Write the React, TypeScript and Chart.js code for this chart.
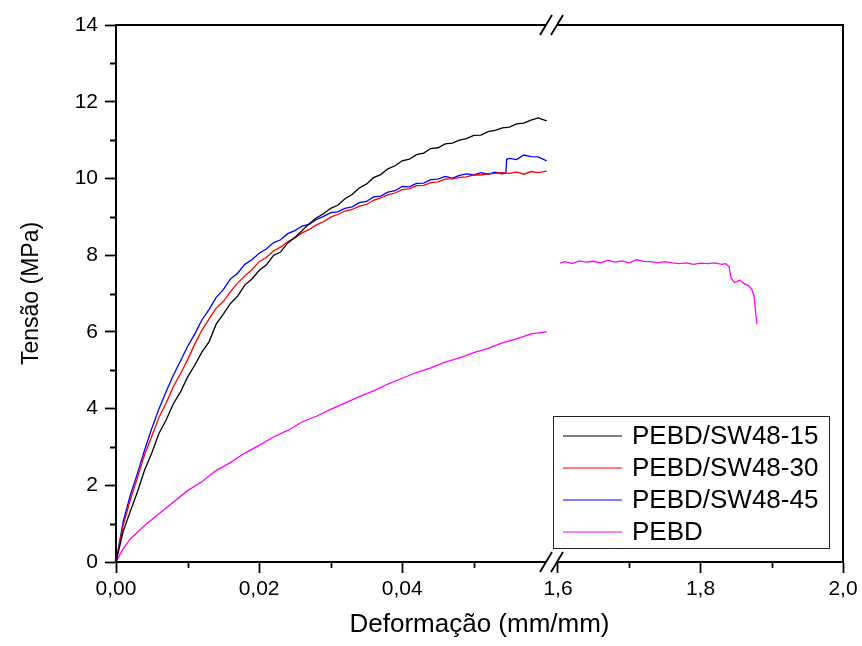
import React, { useEffect, useRef } from 'react';
import { Chart, registerables } from 'chart.js';

Chart.register(...registerables);

const FONT = "'Liberation Sans', Arial, Helvetica, sans-serif";

const seriesNames = ['PEBD/SW48-15', 'PEBD/SW48-30', 'PEBD/SW48-45', 'PEBD'];
const seriesColors = ['#000000', '#ff0000', '#0000ff', '#ff00ff'];

const xTitle = 'Deformação (mm/mm)';
const yTitle = 'Tensão (MPa)';

// strain grid shared by PEBD/SW48-15 and PEBD/SW48-30 (left segment)
const strainSW = [
  0, 0.001, 0.002, 0.003, 0.004, 0.005, 0.006, 0.007, 0.008, 0.009,
  0.010, 0.011, 0.012, 0.013, 0.014, 0.015, 0.016, 0.017, 0.018, 0.019,
  0.020, 0.021, 0.022, 0.023, 0.024, 0.025, 0.026, 0.027, 0.028, 0.029,
  0.030, 0.031, 0.032, 0.033, 0.034, 0.035, 0.036, 0.037, 0.038, 0.039,
  0.040, 0.041, 0.042, 0.043, 0.044, 0.045, 0.046, 0.047, 0.048, 0.049,
  0.050, 0.051, 0.052, 0.053, 0.054, 0.055, 0.056, 0.057, 0.058, 0.059,
  0.0602,
];

const stressSW15 = [
  0, 0.8, 1.32, 1.83, 2.4, 2.84, 3.35, 3.7, 4.12, 4.43,
  4.82, 5.13, 5.47, 5.74, 6.2, 6.46, 6.74, 6.93, 7.22, 7.38,
  7.6, 7.74, 7.99, 8.08, 8.32, 8.46, 8.64, 8.82, 8.97, 9.08,
  9.22, 9.3, 9.47, 9.58, 9.75, 9.85, 10.02, 10.1, 10.25, 10.33,
  10.46, 10.5, 10.62, 10.66, 10.78, 10.8, 10.9, 10.92, 11.0, 11.04,
  11.12, 11.13, 11.22, 11.25, 11.32, 11.34, 11.42, 11.44, 11.52, 11.58,
  11.5,
];

const stressSW30 = [
  0, 0.95, 1.62, 2.2, 2.8, 3.28, 3.77, 4.14, 4.57, 4.9,
  5.27, 5.68, 6.04, 6.33, 6.62, 6.79, 7.05, 7.27, 7.46, 7.62,
  7.83, 7.94, 8.11, 8.21, 8.35, 8.45, 8.58, 8.67, 8.79, 8.87,
  8.99, 9.06, 9.15, 9.19, 9.28, 9.32, 9.43, 9.49, 9.57, 9.62,
  9.71, 9.73, 9.81, 9.82, 9.89, 9.91, 9.98, 9.99, 10.03, 10.04,
  10.09, 10.09, 10.12, 10.13, 10.15, 10.13, 10.17, 10.11, 10.18, 10.15,
  10.19,
];

const strainSW45 = [
  0, 0.001, 0.002, 0.003, 0.004, 0.005, 0.006, 0.007, 0.008, 0.009,
  0.010, 0.011, 0.012, 0.013, 0.014, 0.015, 0.016, 0.017, 0.018, 0.019,
  0.020, 0.021, 0.022, 0.023, 0.024, 0.025, 0.026, 0.027, 0.028, 0.029,
  0.030, 0.031, 0.032, 0.033, 0.034, 0.035, 0.036, 0.037, 0.038, 0.039,
  0.040, 0.041, 0.042, 0.043, 0.044, 0.045, 0.046, 0.047, 0.048, 0.049,
  0.050, 0.051, 0.052, 0.053, 0.054, 0.0545, 0.0546, 0.055, 0.056, 0.057,
  0.058, 0.059, 0.0602,
];

const stressSW45 = [
  0, 1.05, 1.74, 2.31, 2.92, 3.48, 3.99, 4.44, 4.86, 5.24,
  5.62, 5.94, 6.31, 6.58, 6.9, 7.1, 7.38, 7.53, 7.76, 7.88,
  8.05, 8.16, 8.32, 8.4, 8.56, 8.64, 8.76, 8.8, 8.93, 9.01,
  9.11, 9.13, 9.22, 9.26, 9.37, 9.4, 9.52, 9.54, 9.64, 9.68,
  9.79, 9.78, 9.87, 9.88, 9.97, 9.98, 10.05, 10.01, 10.08, 10.12,
  10.09, 10.15, 10.11, 10.16, 10.12, 10.14, 10.5, 10.52, 10.49, 10.61,
  10.57, 10.56, 10.46,
];

const strainPEBDlow = [
  0, 0.001, 0.002, 0.004, 0.006, 0.008, 0.010, 0.012, 0.014, 0.016,
  0.018, 0.020, 0.022, 0.024, 0.026, 0.028, 0.030, 0.032, 0.034, 0.036,
  0.038, 0.040, 0.042, 0.044, 0.046, 0.048, 0.050, 0.052, 0.054, 0.056,
  0.058, 0.0602,
];

const stressPEBDlow = [
  0, 0.35, 0.6, 0.95, 1.26, 1.56, 1.86, 2.09, 2.39, 2.59,
  2.84, 3.04, 3.26, 3.43, 3.65, 3.8, 3.98, 4.14, 4.31, 4.46,
  4.64, 4.79, 4.94, 5.06, 5.21, 5.32, 5.46, 5.57, 5.71, 5.82,
  5.95, 6.0,
];

const strainPEBDhigh = [
  1.603, 1.61, 1.62, 1.63, 1.64, 1.65, 1.66, 1.67, 1.68, 1.69,
  1.70, 1.71, 1.72, 1.73, 1.74, 1.75, 1.76, 1.77, 1.78, 1.79,
  1.80, 1.81, 1.82, 1.83, 1.835, 1.84, 1.843, 1.848, 1.855, 1.862,
  1.868, 1.872, 1.875, 1.877, 1.879,
];

const stressPEBDhigh = [
  7.8, 7.83, 7.78, 7.85, 7.82, 7.84, 7.8, 7.87, 7.82, 7.85,
  7.8, 7.88, 7.84, 7.83, 7.8, 7.83, 7.8, 7.78, 7.8, 7.76,
  7.79, 7.78, 7.8, 7.76, 7.78, 7.7, 7.4, 7.28, 7.35, 7.25,
  7.2, 7.1, 6.95, 6.6, 6.2,
];

const yTicks = [0, 2, 4, 6, 8, 10, 12, 14];
const yMinorTicks = [1, 3, 5, 7, 9, 11, 13];
const xLowTicks = [0, 0.02, 0.04];
const xLowMinorTicks = [0.01, 0.03, 0.05];
const xHighTicks = [1.6, 1.8, 2.0];
const xHighMinorTicks = [1.7, 1.9];

const xLowRange = [0, 0.0608];
const xHighRange = [1.5902, 2.0];
const yRange = [0, 14];

const pairs = (xs: number[], ys: number[]) => xs.map((x, i) => ({ x, y: ys[i] }));

const framePlugin = {
  id: 'frameAndLegend',
  afterDraw(chart: any) {
    const { ctx, chartArea } = chart;
    const { left, right, top, bottom } = chartArea;
    const ys = chart.scales.y;
    const xl = chart.scales.xLow;
    const xh = chart.scales.xHigh;
    ctx.save();
    ctx.strokeStyle = '#000';
    ctx.lineWidth = 2;
    ctx.beginPath();
    ctx.moveTo(left, top);
    ctx.lineTo(right, top);
    ctx.lineTo(right, bottom);
    ctx.stroke();

    // minor ticks
    ctx.lineWidth = 1.8;
    ctx.beginPath();
    yMinorTicks.forEach((v) => {
      const p = Math.round(ys.getPixelForValue(v)) + 0.5;
      ctx.moveTo(left, p);
      ctx.lineTo(left - 6, p);
    });
    xLowMinorTicks.forEach((v) => {
      const p = Math.round(xl.getPixelForValue(v)) + 0.5;
      ctx.moveTo(p, bottom);
      ctx.lineTo(p, bottom + 6);
    });
    xHighMinorTicks.forEach((v) => {
      const p = Math.round(xh.getPixelForValue(v)) + 0.5;
      ctx.moveTo(p, bottom);
      ctx.lineTo(p, bottom + 6);
    });
    ctx.stroke();

    // axis break marks
    const bx = xl.right;
    const s1 = bx - 5;
    const s2 = bx + 6;
    [top, bottom].forEach((yy) => {
      ctx.fillStyle = '#fff';
      ctx.beginPath();
      ctx.moveTo(s1 - 4, yy + 3);
      ctx.lineTo(s2 - 4, yy + 3);
      ctx.lineTo(s2 + 4, yy - 3);
      ctx.lineTo(s1 + 4, yy - 3);
      ctx.closePath();
      ctx.fill();
      ctx.strokeStyle = '#000';
      ctx.lineWidth = 1.8;
      ctx.beginPath();
      ctx.moveTo(s1 - 6, yy + 10);
      ctx.lineTo(s1 + 6, yy - 10);
      ctx.moveTo(s2 - 6, yy + 10);
      ctx.lineTo(s2 + 6, yy - 10);
      ctx.stroke();
    });

    // legend
    const boxW = 276;
    const boxH = 132;
    const bxR = right - 14;
    const byB = bottom - 14;
    const lx = bxR - boxW;
    const ly = byB - boxH;
    ctx.fillStyle = '#fff';
    ctx.fillRect(lx, ly, boxW, boxH);
    ctx.strokeStyle = '#222';
    ctx.lineWidth = 1;
    ctx.strokeRect(Math.round(lx) + 0.5, Math.round(ly) + 0.5, boxW, boxH);
    ctx.font = `26px ${FONT}`;
    ctx.textAlign = 'left';
    ctx.textBaseline = 'middle';
    const items = chart.data.datasets.filter((d: any) => !d.hideInLegend);
    items.forEach((d: any, i: number) => {
      const cy = ly + 20 + i * 32;
      ctx.strokeStyle = d.borderColor;
      ctx.lineWidth = 1.2;
      ctx.beginPath();
      ctx.moveTo(lx + 10, cy);
      ctx.lineTo(lx + 69, cy);
      ctx.stroke();
      ctx.fillStyle = '#000';
      ctx.fillText(d.label, lx + 79, cy + 1);
    });
    ctx.restore();
  },
};

export default function App() {
  const ref = useRef<HTMLCanvasElement | null>(null);

  useEffect(() => {
    if (!ref.current) return;
    Chart.defaults.font.family = FONT;
    Chart.defaults.color = '#000';
    const lineStyle = { borderWidth: 1.3, pointRadius: 0, tension: 0, fill: false };
    const chart = new Chart(ref.current, {
      type: 'line',
      data: {
        datasets: [
          { label: seriesNames[0], data: pairs(strainSW, stressSW15), borderColor: seriesColors[0], xAxisID: 'xLow', yAxisID: 'y', ...lineStyle },
          { label: seriesNames[1], data: pairs(strainSW, stressSW30), borderColor: seriesColors[1], xAxisID: 'xLow', yAxisID: 'y', ...lineStyle },
          { label: seriesNames[2], data: pairs(strainSW45, stressSW45), borderColor: seriesColors[2], xAxisID: 'xLow', yAxisID: 'y', ...lineStyle },
          { label: seriesNames[3], data: pairs(strainPEBDlow, stressPEBDlow), borderColor: seriesColors[3], xAxisID: 'xLow', yAxisID: 'y', ...lineStyle },
          { label: seriesNames[3], data: pairs(strainPEBDhigh, stressPEBDhigh), borderColor: seriesColors[3], xAxisID: 'xHigh', yAxisID: 'y', hideInLegend: true, ...lineStyle } as any,
        ],
      },
      options: {
        animation: false,
        responsive: false,
        maintainAspectRatio: false,
        layout: { padding: { left: 0, right: 19, top: 25, bottom: 0 } },
        plugins: {
          legend: { display: false },
          tooltip: { enabled: false },
          title: {
            display: true,
            text: xTitle,
            position: 'bottom',
            fullSize: false,
            color: '#000',
            font: { size: 26, family: FONT, weight: 'normal', lineHeight: 1.2 },
            padding: { top: 2, bottom: 5.8 },
          },
        },
        scales: {
          xLow: {
            type: 'linear',
            position: 'bottom',
            stack: 'x',
            stackWeight: 435,
            min: xLowRange[0],
            max: xLowRange[1],
            offset: false,
            afterBuildTicks: (s: any) => {
              s.ticks = xLowTicks.map((v) => ({ value: v }));
            },
            afterFit: (s: any) => {
              s.height = 45;
            },
            ticks: {
              autoSkip: false,
              maxRotation: 0,
              padding: 4,
              color: '#000',
              font: { size: 21, family: FONT },
              callback: (v: any) => Number(v).toFixed(2).replace('.', ','),
            },
            grid: { drawOnChartArea: false, drawTicks: true, tickLength: 11, tickColor: '#000', tickWidth: 1.8 },
            border: { display: true, color: '#000', width: 2 },
          },
          xHigh: {
            type: 'linear',
            position: 'bottom',
            stack: 'x',
            stackWeight: 292,
            min: xHighRange[0],
            max: xHighRange[1],
            offset: false,
            afterBuildTicks: (s: any) => {
              s.ticks = xHighTicks.map((v) => ({ value: v }));
            },
            afterFit: (s: any) => {
              s.height = 45;
            },
            ticks: {
              autoSkip: false,
              maxRotation: 0,
              padding: 4,
              color: '#000',
              font: { size: 21, family: FONT },
              callback: (v: any) => Number(v).toFixed(1).replace('.', ','),
            },
            grid: { drawOnChartArea: false, drawTicks: true, tickLength: 11, tickColor: '#000', tickWidth: 1.8 },
            border: { display: true, color: '#000', width: 2 },
          },
          y: {
            type: 'linear',
            position: 'left',
            min: yRange[0],
            max: yRange[1],
            afterBuildTicks: (s: any) => {
              s.ticks = yTicks.map((v) => ({ value: v }));
            },
            afterFit: (s: any) => {
              s.width = 116;
            },
            ticks: {
              padding: 7,
              color: '#000',
              font: { size: 21, family: FONT },
              callback: (v: any) => String(v),
            },
            grid: { drawOnChartArea: false, drawTicks: true, tickLength: 11, tickColor: '#000', tickWidth: 1.8 },
            border: { display: true, color: '#000', width: 2 },
            title: {
              display: true,
              text: yTitle,
              color: '#000',
              font: { size: 23, family: FONT },
              padding: { top: 18, bottom: 0 },
            },
          },
        },
      } as any,
      plugins: [framePlugin],
    });
    return () => chart.destroy();
  }, []);

  return (
    <div style={{ position: 'fixed', left: 0, top: 0, width: 862, height: 646, background: '#fff' }}>
      <canvas ref={ref} width={862} height={646} style={{ display: 'block', width: 862, height: 646 }} />
    </div>
  );
}
